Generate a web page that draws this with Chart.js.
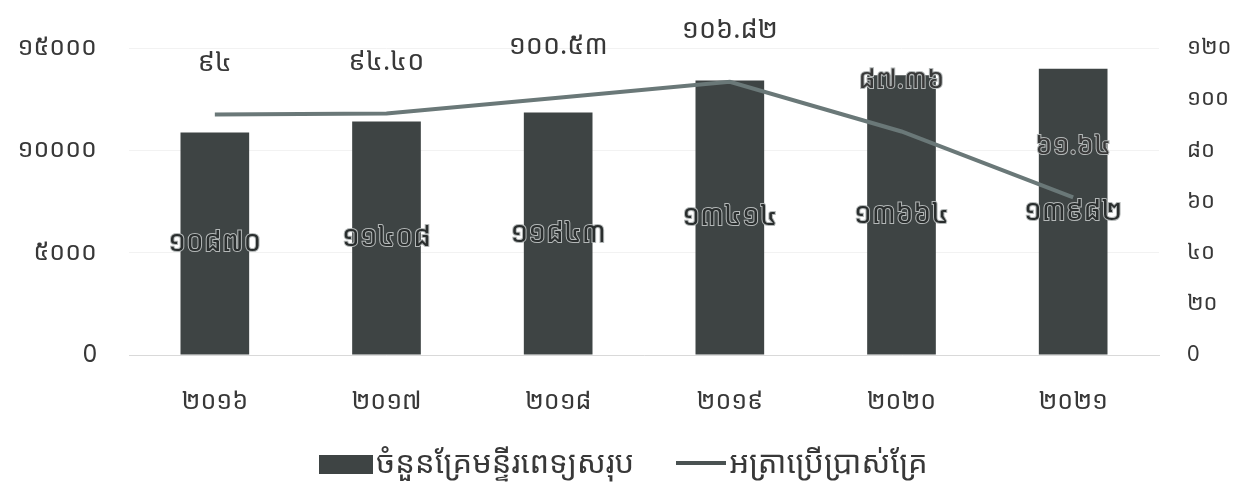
<!DOCTYPE html>
<html>
<head>
<meta charset="utf-8">
<script src="https://cdn.jsdelivr.net/npm/chart.js@4.4.1/dist/chart.umd.min.js"></script>
<style>
  html, body { margin: 0; padding: 0; background: #fff; }
  #wrap { position: relative; width: 1247px; height: 483px; }
  #legend { position: absolute; left: 0; top: 440px; width: 1247px; display: flex; justify-content: center;
            font-family: 'Noto Sans Khmer', 'Khmer OS', 'Noto Sans', sans-serif; font-size: 31px; color: #383838; }
  .item { display: flex; align-items: center; margin: 0 21px; }
  .box { width: 54px; height: 19px; background: #3e4444; margin-right: 3px; margin-top: 6px; }
  .ln { width: 50px; height: 4px; background: #4a5252; margin-right: 3px; margin-top: 4px; }
</style>
</head>
<body>
<div id="wrap">
  <canvas id="c" width="1247" height="483"></canvas>
  <div id="legend">
    <div class="item"><span class="box"></span><span>ចំនួនគ្រែមន្ទីរពេទ្យសរុប</span></div>
    <div class="item"><span class="ln"></span><span>អត្រាប្រើប្រាស់គ្រែ</span></div>
  </div>
</div>
<script>
// --- chart data ---
const years = ['២០១៦', '២០១៧', '២០១៨', '២០១៩', '២០២០', '២០២១'];
const totalBeds = [10870, 11408, 11843, 13414, 13664, 13982];
const bedUsage = [94, 94.40, 100.53, 106.82, 87.36, 61.64];
const bedUsageText = ['៩៤', '៩៤.៤០', '១០០.៥៣', '១០៦.៨២', '៨៧.៣៦', '៦១.៦៤'];
const leftTicks = [0, 5000, 10000, 15000];
const rightTicks = [0, 20, 40, 60, 80, 100, 120];

const khmerDigits = ['០', '១', '២', '៣', '៤', '៥', '៦', '៧', '៨', '៩'];
function toKhmer(n) {
    return String(n).replace(/[0-9]/g, d => khmerDigits[+d]);
}

const FONT = "'Noto Sans Khmer', 'Khmer OS', 'Noto Sans', sans-serif";

// draws the value labels on bars and above the line points
const valueLabels = {
    id: 'valueLabels',
    afterDatasetsDraw(chart) {
        const ctx = chart.ctx;
        ctx.save();
        ctx.textAlign = 'center';
        ctx.textBaseline = 'middle';
        ctx.font = '28px ' + FONT;

        const barMeta = chart.getDatasetMeta(0);
        barMeta.data.forEach((bar, i) => {
            const y = (bar.y + bar.base) / 2;
            ctx.lineWidth = 2;
            ctx.strokeStyle = '#b4b8b8';
            ctx.strokeText(toKhmer(totalBeds[i]), bar.x, y);
            ctx.fillStyle = '#2a2e2e';
            ctx.fillText(toKhmer(totalBeds[i]), bar.x, y);
        });

        ctx.font = '27px ' + FONT;
        const lineMeta = chart.getDatasetMeta(1);
        lineMeta.data.forEach((pt, i) => {
            const y = pt.y - 51;
            ctx.lineWidth = 2;
            ctx.strokeStyle = '#b4b8b8';
            if (i >= 4) ctx.strokeText(bedUsageText[i], pt.x, y);
            ctx.fillStyle = '#383838';
            ctx.fillText(bedUsageText[i], pt.x, y);
        });
        ctx.restore();
    }
};

new Chart(document.getElementById('c'), {
    data: {
        labels: years,
        datasets: [
            {
                type: 'bar',
                label: 'ចំនួនគ្រែមន្ទីរពេទ្យសរុប',
                data: totalBeds,
                backgroundColor: '#3e4444',
                yAxisID: 'y',
                barPercentage: 0.4,
                categoryPercentage: 1.0,
                order: 2
            },
            {
                type: 'line',
                label: 'អត្រាប្រើប្រាស់គ្រែ',
                data: bedUsage,
                borderColor: '#6a7878',
                borderWidth: 4,
                pointRadius: 0,
                tension: 0,
                yAxisID: 'y1',
                order: 1
            }
        ]
    },
    options: {
        responsive: false,
        animation: false,
        layout: { padding: { top: 48, bottom: 0, left: 0, right: 0 } },
        plugins: {
            legend: { display: false },
            tooltip: { enabled: false }
        },
        scales: {
            x: {
                grid: { display: false },
                border: { display: true, color: '#d9d9d9', width: 1 },
                ticks: { color: '#383838', font: { family: FONT, size: 25 }, padding: 24 },
                afterFit(scale) { scale.height = 128; }
            },
            y: {
                position: 'left',
                min: 0, max: 15000,
                afterBuildTicks(scale) { scale.ticks = leftTicks.map(v => ({ value: v })); },
                grid: { color: '#f2f2f2', drawTicks: false },
                border: { display: false },
                ticks: {
                    color: '#383838', font: { family: FONT, size: 25 }, padding: 32,
                    callback: v => v === 0 ? '0' : toKhmer(v)
                },
                afterFit(scale) { scale.width = 129; }
            },
            y1: {
                position: 'right',
                min: 0, max: 120,
                afterBuildTicks(scale) { scale.ticks = rightTicks.map(v => ({ value: v })); },
                grid: { display: false, drawTicks: false },
                border: { display: false },
                ticks: {
                    color: '#383838', font: { family: FONT, size: 22 }, padding: 28,
                    callback: v => v === 0 ? '0' : toKhmer(v)
                },
                afterFit(scale) { scale.width = 88; }
            }
        }
    },
    plugins: [valueLabels]
});
</script>
</body>
</html>
